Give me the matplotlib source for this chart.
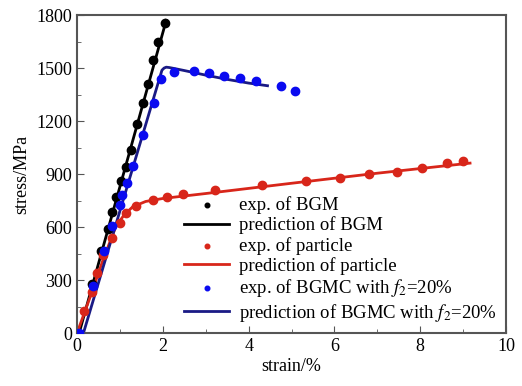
import matplotlib.pyplot as plt
from matplotlib.ticker import MultipleLocator

plt.rcParams['font.family'] = ['Liberation Serif', 'DejaVu Serif']
plt.rcParams['mathtext.fontset'] = 'stix'

bgm_strain = [0.34, 0.55, 0.72, 0.82, 0.91, 1.03, 1.14, 1.26, 1.41, 1.53, 1.65, 1.78, 1.88, 2.05]
bgm_stress = [276, 464, 592, 687, 771, 860, 938, 1036, 1183, 1303, 1409, 1545, 1647, 1756]

part_strain = [0.16, 0.34, 0.47, 0.6, 0.82, 1.0, 1.14, 1.38, 1.76, 2.09, 2.48, 3.22,
               4.32, 5.34, 6.13, 6.81, 7.45, 8.03, 8.62, 8.99]
part_stress = [125, 234, 338, 440, 541, 626, 677, 720, 756, 771, 787, 809,
               838, 860, 879, 898, 913, 932, 960, 975]

bgmc_strain = [0.05, 0.38, 0.64, 0.82, 1.0, 1.06, 1.16, 1.30, 1.53, 1.80, 1.96, 2.27,
               2.73, 3.08, 3.43, 3.80, 4.17, 4.76, 5.07]
bgmc_stress = [0, 266, 464, 605, 724, 781, 847, 947, 1124, 1300, 1437, 1479,
               1483, 1470, 1455, 1441, 1426, 1400, 1372]

# model predictions
bgm_pred_strain = [0.05, 2.08]
bgm_pred_stress = [0, 1770]

part_pred_strain = [0, 0.3, 0.6, 0.9, 1.1, 1.3, 1.6, 2.0, 3.0, 5.0, 7.0, 9.16]
part_pred_stress = [0, 200, 410, 600, 670, 715, 745, 762, 790, 848, 905, 962]

bgmc_pred_strain = [0.15, 1.98, 2.03, 2.08, 2.15, 2.3, 2.5, 3.0, 3.5, 4.0, 4.44]
bgmc_pred_stress = [0, 1488, 1500, 1505, 1503, 1496, 1486, 1460, 1436, 1415, 1400]

red = '#d8261a'
navy = '#1a1a85'
blue = '#0a0af0'

fig = plt.figure(figsize=(5.22, 3.86), dpi=100)
ax = fig.add_axes([0.1475, 0.137, 0.822, 0.824])

ax.scatter(bgm_strain, bgm_stress, s=36, color='black', zorder=3, label='exp. of BGM')
ax.plot(bgm_pred_strain, bgm_pred_stress, color='black', lw=2, label='prediction of BGM')
ax.scatter(part_strain, part_stress, s=36, color=red, zorder=3, label='exp. of particle')
ax.plot(part_pred_strain, part_pred_stress, color=red, lw=2, label='prediction of particle')
ax.scatter(bgmc_strain, bgmc_stress, s=36, color=blue, zorder=3,
           label='exp. of BGMC with $f_2$=20%')
ax.plot(bgmc_pred_strain, bgmc_pred_stress, color=navy, lw=2,
        label='prediction of BGMC with $f_2$=20%')

ax.set_xlim(0, 10)
ax.set_ylim(0, 1800)
ax.xaxis.set_major_locator(MultipleLocator(2))
ax.xaxis.set_minor_locator(MultipleLocator(1))
ax.yaxis.set_major_locator(MultipleLocator(300))
ax.yaxis.set_minor_locator(MultipleLocator(150))
ax.tick_params(which='both', direction='in', labelsize=13, color='#555555')
ax.tick_params(which='major', length=5)
ax.tick_params(which='minor', length=3)
for s in ax.spines.values():
    s.set_color('#555555')
    s.set_linewidth(1.5)

ax.set_xlabel('strain/%', fontsize=13, labelpad=2)
ax.set_ylabel('stress/MPa', fontsize=13, labelpad=4)

leg = ax.legend(loc='lower right', bbox_to_anchor=(1.0, 0.0), frameon=False, fontsize=13.5,
                handlelength=2.4, handletextpad=0.5, labelspacing=0.13, markerscale=0.55,
                borderaxespad=0.1)

fig.savefig('out.png', dpi=100)
